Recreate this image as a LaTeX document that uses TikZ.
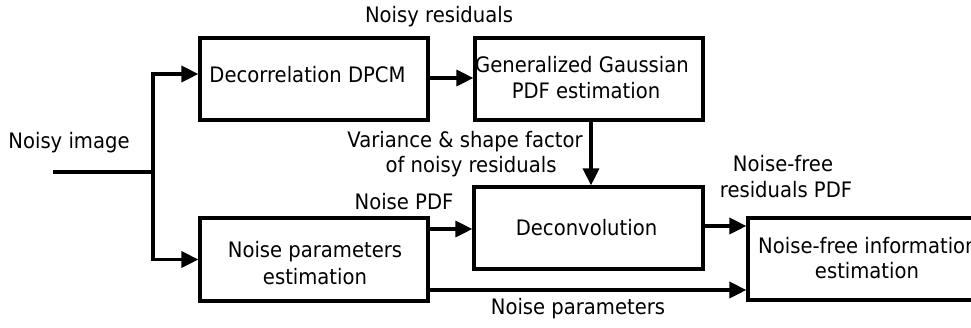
\documentclass[tikz,border=0pt]{standalone}
\usepackage{fontspec}
\setmainfont[FakeStretch=0.92]{DejaVu Sans}
\usetikzlibrary{arrows.meta}
\begin{document}
\begin{tikzpicture}[x=1pt,y=-1pt,
  box/.style={draw, line width=3.2pt, minimum width=#1, minimum height=82pt, inner sep=0pt},
  box/.default=228pt,
  wire/.style={line width=3.2pt},
  arr/.style={line width=3.2pt, -{Triangle[length=17pt,width=16pt]}},
  txt/.style={font=\fontsize{21.3}{25}\selectfont, anchor=base, inner sep=0pt}]
\useasboundingbox (0,0) rectangle (971,327);
\clip (0,0) rectangle (971,327);
% boxes
\node[box] (dec) at (314,79) {};
\node[box] (gen) at (589,79) {};
\node[box=229pt] (dcv) at (588.5,228) {};
\node[box, minimum height=83pt] (np) at (314,259.5) {};
\node[box=239pt] (nf) at (867.5,259) {};
% box texts
\node[txt] (tdec) at (307.5,82) {Decorrelation DPCM};
\node[txt] (tgen1) at (582,72) {Generalized Gaussian};
\node[txt] (tgen2) at (586,98) {PDF estimation};
\node[txt] (tdcv) at (586.5,235) {Deconvolution};
\node[txt] (tnp1) at (315,257) {Noise parameters};
\node[txt] (tnp2) at (315,284) {estimation};
\node[txt, anchor=base west] (tnf1) at (758,253) {Noise-free information};
\node[txt] (tnf2) at (867,278) {estimation};
% labels
\node[txt] (lres) at (439,22) {Noisy residuals};
\node[txt] (lvar1) at (465,147) {Variance \& shape factor};
\node[txt] (lvar2) at (471,172) {of noisy residuals};
\node[txt] (lnpdf) at (404,209) {Noise PDF};
\node[txt] (lnf1) at (783,171) {Noise-free};
\node[txt] (lnf2) at (786,197) {residuals PDF};
\node[txt] (lnp) at (578,314) {Noise parameters};
\node[txt] (limg) at (69,148) {Noisy image};
% connectors
\coordinate (in) at (53,172);
\coordinate (split) at (153,172);
\draw[wire] (in) -- (split);
\draw[arr] (split) |- (dec.west |- 0,74);
\draw[arr] (split) |- (np.west);
\draw[arr] (dec.east |- 0,78) -- (gen.west |- 0,78);
\draw[arr] (gen.south -| 591,0) -- (dcv.north -| 591,0);
\draw[arr] (np.east |- 0,229) -- (dcv.west |- 0,229);
\draw[arr] (dcv.east |- 0,226) -- (nf.west |- 0,226);
\draw[arr] (np.east |- 0,290) -- (nf.west |- 0,290);
\end{tikzpicture}
\end{document}
